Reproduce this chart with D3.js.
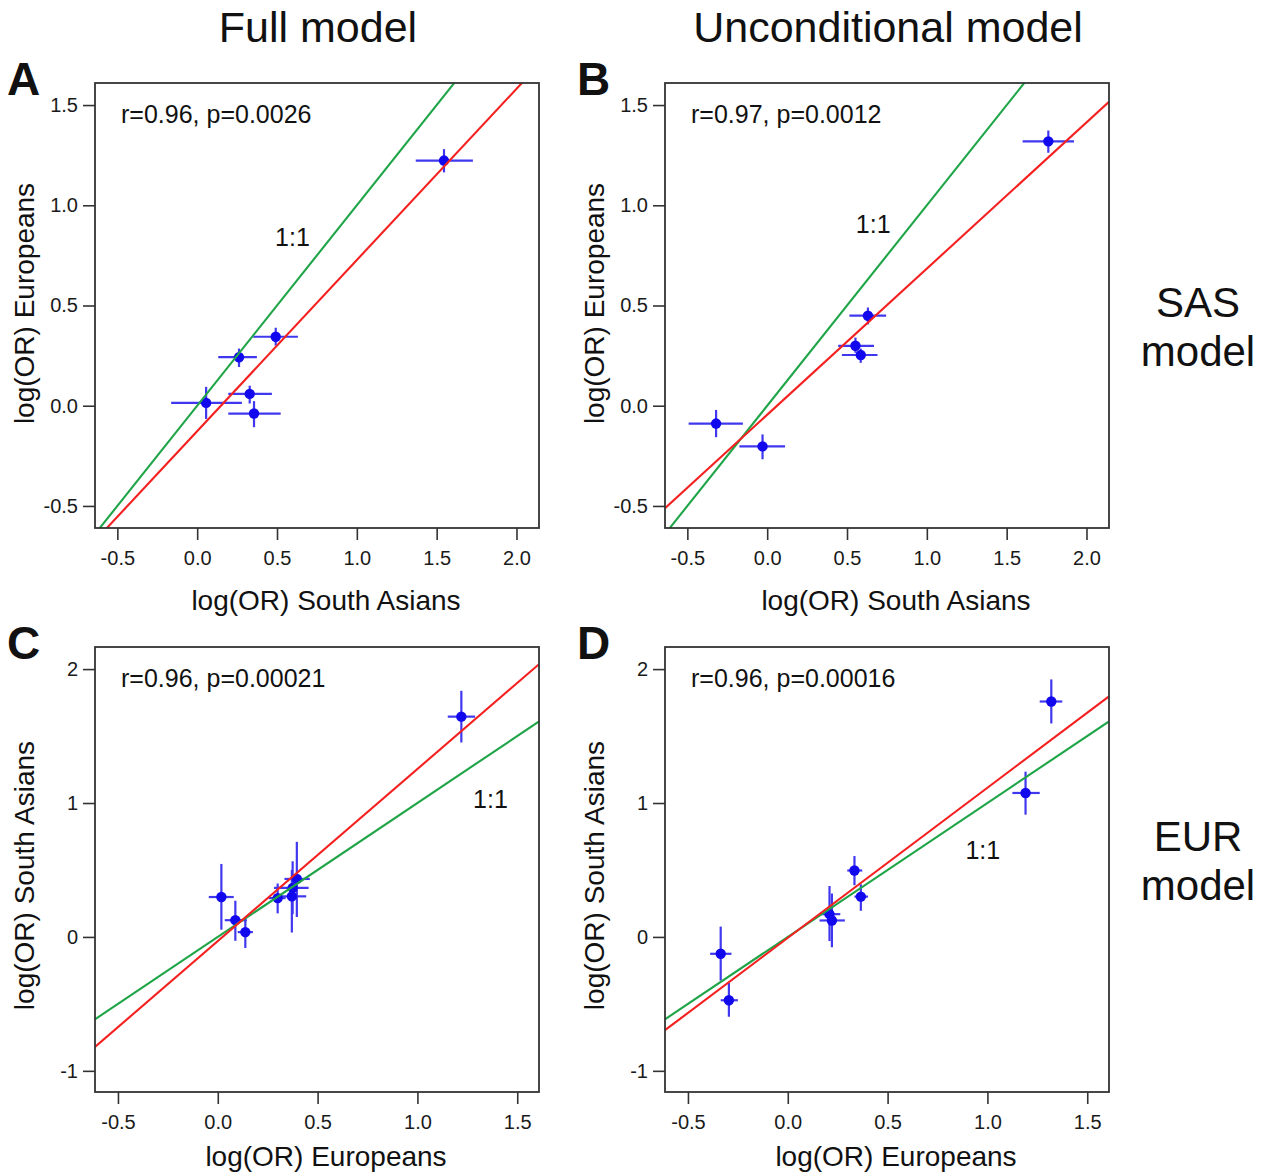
<!DOCTYPE html>
<html>
<head>
<meta charset="utf-8">
<script src="https://cdn.jsdelivr.net/npm/d3@7"></script>
<style>
  html, body { margin: 0; padding: 0; background: #fff; }
  svg { display: block; font-family: "Liberation Sans", Arial, sans-serif; }
</style>
</head>
<body>
<svg id="chart" width="1275" height="1173"></svg>
<script>
// ---- Data: log odds ratios with confidence intervals ----
// Panel A: Full model, SAS model (x = South Asians, y = Europeans)
const aX   = [1.546, 0.492, 0.262, 0.056, 0.329, 0.356];
const aY   = [1.223, 0.344, 0.242, 0.014, 0.059, -0.039];
const aXlo = [1.369, 0.351, 0.132, -0.163, 0.195, 0.195];
const aXhi = [1.727, 0.631, 0.374, 0.280, 0.468, 0.523];
const aYlo = [1.164, 0.300, 0.193, -0.066, 0.011, -0.107];
const aYhi = [1.280, 0.389, 0.285, 0.094, 0.100, 0.023];

// Panel B: Unconditional model, SAS model
const bX   = [1.761, 0.631, 0.553, 0.586, -0.320, -0.029];
const bY   = [1.319, 0.449, 0.299, 0.253, -0.089, -0.203];
const bXlo = [1.600, 0.515, 0.445, 0.468, -0.492, -0.174];
const bXhi = [1.922, 0.745, 0.669, 0.691, -0.152, 0.112];
const bYlo = [1.262, 0.406, 0.264, 0.214, -0.157, -0.267];
const bYhi = [1.373, 0.490, 0.340, 0.285, -0.021, -0.143];

// Panel C: Full model, EUR model (x = Europeans, y = South Asians)
const cX   = [1.220, 0.396, 0.375, 0.371, 0.300, 0.018, 0.088, 0.138];
const cY   = [1.645, 0.433, 0.366, 0.303, 0.290, 0.298, 0.125, 0.036];
const cXlo = [1.152, 0.334, 0.282, 0.295, 0.255, -0.045, 0.035, 0.100];
const cXhi = [1.289, 0.461, 0.455, 0.443, 0.340, 0.080, 0.146, 0.176];
const cYlo = [1.452, 0.149, 0.170, 0.033, 0.176, 0.054, -0.029, -0.083];
const cYhi = [1.838, 0.710, 0.565, 0.500, 0.399, 0.545, 0.270, 0.120];

// Panel D: Unconditional model, EUR model
const dX   = [1.320, 1.191, 0.334, 0.366, 0.209, 0.221, -0.336, -0.295];
const dY   = [1.758, 1.075, 0.496, 0.301, 0.170, 0.123, -0.126, -0.473];
const dXlo = [1.262, 1.125, 0.298, 0.334, 0.159, 0.159, -0.389, -0.336];
const dXhi = [1.375, 1.262, 0.373, 0.402, 0.263, 0.286, -0.282, -0.250];
const dYlo = [1.594, 0.913, 0.386, 0.195, -0.031, -0.077, -0.326, -0.596];
const dYhi = [1.923, 1.234, 0.604, 0.393, 0.380, 0.324, 0.077, -0.344];

// Regression fits (slope, intercept) per panel A..D; the 1:1 line is slope 1 through 0
const fitSlope     = [0.854, 0.729, 1.285, 1.121];
const fitIntercept = [-0.127, -0.045, -0.031, -0.007];

// Correlation annotations
const statLabels = ["r=0.96, p=0.0026", "r=0.97, p=0.0012", "r=0.96, p=0.00021", "r=0.96, p=0.00016"];
// Position of the "1:1" label, in data units
const oneToOneX = [0.597, 0.664, 1.366, 0.977];
const oneToOneY = [0.843, 0.906, 1.028, 0.650];

// Axis ticks
const sasXTicks = [-0.5, 0.0, 0.5, 1.0, 1.5, 2.0];
const sasYTicks = [-0.5, 0.0, 0.5, 1.0, 1.5];
const eurXTicks = [-0.5, 0.0, 0.5, 1.0, 1.5];
const eurYTicks = [-1, 0, 1, 2];

// Axis limits
const sasXDomain = [-0.64, 2.141];
const sasYDomain = [-0.61, 1.61];
const eurXDomain = [-0.615, 1.609];
const eurYDomain = [-1.158, 2.165];

const columnTitles = ["Full model", "Unconditional model"];
const rowTitles = [["SAS", "model"], ["EUR", "model"]];

// ---- Layout ----
const boxW = 444, boxH = 445;
const colLeft = [95, 665];
const rowTop = [83, 647];
const rowTitleBase = [317, 851];
const xTitleGap = [82, 74];

const svg = d3.select("#chart");
const RED = "#f42020", GREEN = "#1fa548", PT = "#1208ee", BAR = "#4038ee";

const panels = [
  { letter: "A", col: 0, row: 0, x: aX, y: aY, xlo: aXlo, xhi: aXhi, ylo: aYlo, yhi: aYhi,
    xd: sasXDomain, yd: sasYDomain, xt: sasXTicks, yt: sasYTicks, fmtY: d => d.toFixed(1),
    xTitle: "log(OR) South Asians", yTitle: "log(OR) Europeans" },
  { letter: "B", col: 1, row: 0, x: bX, y: bY, xlo: bXlo, xhi: bXhi, ylo: bYlo, yhi: bYhi,
    xd: sasXDomain, yd: sasYDomain, xt: sasXTicks, yt: sasYTicks, fmtY: d => d.toFixed(1),
    xTitle: "log(OR) South Asians", yTitle: "log(OR) Europeans" },
  { letter: "C", col: 0, row: 1, x: cX, y: cY, xlo: cXlo, xhi: cXhi, ylo: cYlo, yhi: cYhi,
    xd: eurXDomain, yd: eurYDomain, xt: eurXTicks, yt: eurYTicks, fmtY: d => String(d),
    xTitle: "log(OR) Europeans", yTitle: "log(OR) South Asians" },
  { letter: "D", col: 1, row: 1, x: dX, y: dY, xlo: dXlo, xhi: dXhi, ylo: dYlo, yhi: dYhi,
    xd: eurXDomain, yd: eurYDomain, xt: eurXTicks, yt: eurYTicks, fmtY: d => String(d),
    xTitle: "log(OR) Europeans", yTitle: "log(OR) South Asians" }
];

// Column titles
columnTitles.forEach((t, i) => {
  svg.append("text")
    .attr("x", colLeft[i] + boxW / 2 + 1)
    .attr("y", 42)
    .attr("text-anchor", "middle")
    .attr("font-size", 43)
    .attr("fill", "#111")
    .text(t);
});

// Row titles on the right
rowTitles.forEach((lines, i) => {
  lines.forEach((ln, j) => {
    svg.append("text")
      .attr("x", 1198)
      .attr("y", rowTitleBase[i] + j * 49)
      .attr("text-anchor", "middle")
      .attr("font-size", 42)
      .attr("fill", "#111")
      .text(ln);
  });
});

panels.forEach((p, pi) => {
  const left = colLeft[p.col], top = rowTop[p.row];
  const xs = d3.scaleLinear().domain(p.xd).range([left, left + boxW]);
  const ys = d3.scaleLinear().domain(p.yd).range([top + boxH, top]);
  const g = svg.append("g");

  const clipId = "clip" + p.letter;
  svg.append("clipPath").attr("id", clipId)
    .append("rect").attr("x", left).attr("y", top).attr("width", boxW).attr("height", boxH);

  // Axes
  const xAxis = d3.axisBottom(xs).tickValues(p.xt).tickSize(12).tickPadding(11)
    .tickFormat(d => d.toFixed(1));
  const yAxis = d3.axisLeft(ys).tickValues(p.yt).tickSize(12).tickPadding(5)
    .tickFormat(p.fmtY);
  const gx = g.append("g").attr("transform", `translate(0,${top + boxH})`).call(xAxis);
  const gy = g.append("g").attr("transform", `translate(${left},0)`).call(yAxis);
  [gx, gy].forEach(ax => {
    ax.select(".domain").remove();
    ax.selectAll(".tick line").attr("stroke", "#333").attr("stroke-width", 1.6);
    ax.selectAll(".tick text").attr("font-size", 20).attr("fill", "#1a1a1a")
      .attr("font-family", "Liberation Sans, Arial, sans-serif");
  });

  const inner = g.append("g").attr("clip-path", `url(#${clipId})`);
  const idx = d3.range(p.x.length);

  // Error bars
  inner.selectAll("line.hbar").data(idx).join("line")
    .attr("x1", i => xs(p.xlo[i])).attr("x2", i => xs(p.xhi[i]))
    .attr("y1", i => ys(p.y[i])).attr("y2", i => ys(p.y[i]))
    .attr("stroke", BAR).attr("stroke-width", 2.2);
  inner.selectAll("line.vbar").data(idx).join("line")
    .attr("x1", i => xs(p.x[i])).attr("x2", i => xs(p.x[i]))
    .attr("y1", i => ys(p.ylo[i])).attr("y2", i => ys(p.yhi[i]))
    .attr("stroke", BAR).attr("stroke-width", 2.2);

  // Points
  inner.selectAll("circle").data(idx).join("circle")
    .attr("cx", i => xs(p.x[i])).attr("cy", i => ys(p.y[i]))
    .attr("r", 5.2).attr("fill", PT);

  // 1:1 reference line and fitted regression line
  const [x0, x1] = p.xd;
  inner.append("line")
    .attr("x1", xs(x0)).attr("y1", ys(x0)).attr("x2", xs(x1)).attr("y2", ys(x1))
    .attr("stroke", GREEN).attr("stroke-width", 2.1);
  const b = fitSlope[pi], a = fitIntercept[pi];
  inner.append("line")
    .attr("x1", xs(x0)).attr("y1", ys(a + b * x0)).attr("x2", xs(x1)).attr("y2", ys(a + b * x1))
    .attr("stroke", RED).attr("stroke-width", 2.1);

  // Box
  g.append("rect").attr("x", left).attr("y", top).attr("width", boxW).attr("height", boxH)
    .attr("fill", "none").attr("stroke", "#333").attr("stroke-width", 1.8);

  // Annotations
  g.append("text").attr("x", left + 26).attr("y", top + 40)
    .attr("font-size", 25).attr("fill", "#111").text(statLabels[pi]);
  g.append("text").attr("x", xs(oneToOneX[pi])).attr("y", ys(oneToOneY[pi]) + 9)
    .attr("text-anchor", "middle").attr("font-size", 25).attr("fill", "#111").text("1:1");

  // Panel letter
  g.append("text").attr("x", left - 88).attr("y", top + 12)
    .attr("font-size", 46).attr("font-weight", "bold").attr("fill", "#111").text(p.letter);

  // Axis titles
  g.append("text").attr("x", left + boxW / 2 + 9).attr("y", top + boxH + xTitleGap[p.row])
    .attr("text-anchor", "middle").attr("font-size", 28).attr("fill", "#111").text(p.xTitle);
  g.append("text")
    .attr("transform", `translate(${left - 61},${top + boxH / 2 + (p.row ? 6 : -2)}) rotate(-90)`)
    .attr("text-anchor", "middle").attr("font-size", 28).attr("fill", "#111").text(p.yTitle);
});
</script>
</body>
</html>
